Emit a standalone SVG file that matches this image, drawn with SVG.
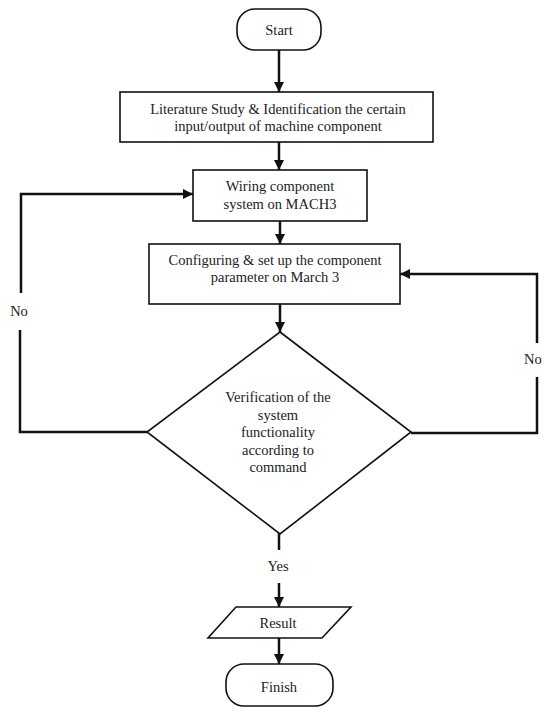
<svg xmlns="http://www.w3.org/2000/svg" width="544" height="709" viewBox="0 0 544 709">
<defs>
<style>
text{font-family:"Liberation Serif","Times New Roman",serif;font-size:14.5px;fill:#222;text-anchor:middle}
.shape{fill:#fff;stroke:#111;stroke-width:1.6}
.conn{fill:none;stroke:#111;stroke-width:2.5}
</style>
<marker id="ah" viewBox="0 0 10 10" refX="10" refY="5" markerWidth="4" markerHeight="4" orient="auto" markerUnits="strokeWidth">
<path d="M0,0 L10,5 L0,10 Z" fill="#111"/>
</marker>
</defs>
<rect width="544" height="709" fill="#fff"/>
<g id="connectors">
<line class="conn" x1="279" y1="50" x2="279" y2="92" marker-end="url(#ah)"/>
<line class="conn" x1="279" y1="142" x2="279" y2="170" marker-end="url(#ah)"/>
<line class="conn" x1="280" y1="221" x2="280" y2="244" marker-end="url(#ah)"/>
<line class="conn" x1="280" y1="304" x2="280" y2="332" marker-end="url(#ah)"/>
<polyline class="conn" points="21,293 21,194 193,194" marker-end="url(#ah)"/>
<polyline class="conn" points="147,432 20,432 20,330"/>
<polyline class="conn" points="537,343 537,274 400,274" marker-end="url(#ah)"/>
<polyline class="conn" points="411,433 537,433 537,377"/>
<line class="conn" x1="279" y1="533" x2="279" y2="550"/>
<line class="conn" x1="279" y1="583" x2="279" y2="607" marker-end="url(#ah)"/>
<line class="conn" x1="279" y1="638" x2="279" y2="664" marker-end="url(#ah)"/>
<text x="19" y="316">No</text>
<text x="524" y="364" style="text-anchor:start">No</text>
<text x="278" y="571">Yes</text>
</g>
<g id="start">
<rect class="shape" x="237" y="9" width="84" height="41" rx="18" ry="18"/>
<text x="279" y="35">Start</text>
</g>
<g id="literature">
<rect class="shape" x="120" y="92" width="313" height="50"/>
<text x="278" y="114">Literature Study &amp; Identification the certain</text>
<text x="278" y="131">input/output of machine component</text>
</g>
<g id="wiring">
<rect class="shape" x="193" y="170" width="174" height="51"/>
<text x="280" y="191">Wiring component</text>
<text x="280" y="209">system on MACH3</text>
</g>
<g id="configuring">
<rect class="shape" x="149" y="244" width="251" height="60"/>
<text x="275" y="265">Configuring &amp;  set up the component</text>
<text x="275" y="282">parameter on March 3</text>
</g>
<g id="verification">
<polygon class="shape" points="280,332 411,432 280,534 147,432"/>
<text x="278" y="402">Verification of the</text>
<text x="278" y="419.5">system</text>
<text x="278" y="437">functionality</text>
<text x="278" y="454.5">according to</text>
<text x="278" y="472">command</text>
</g>
<g id="result">
<polygon class="shape" points="236,607 351,607 322,638 208,638"/>
<text x="278" y="628">Result</text>
</g>
<g id="finish">
<rect class="shape" x="226" y="664" width="107" height="42" rx="18" ry="18"/>
<text x="279" y="692">Finish</text>
</g>
</svg>
